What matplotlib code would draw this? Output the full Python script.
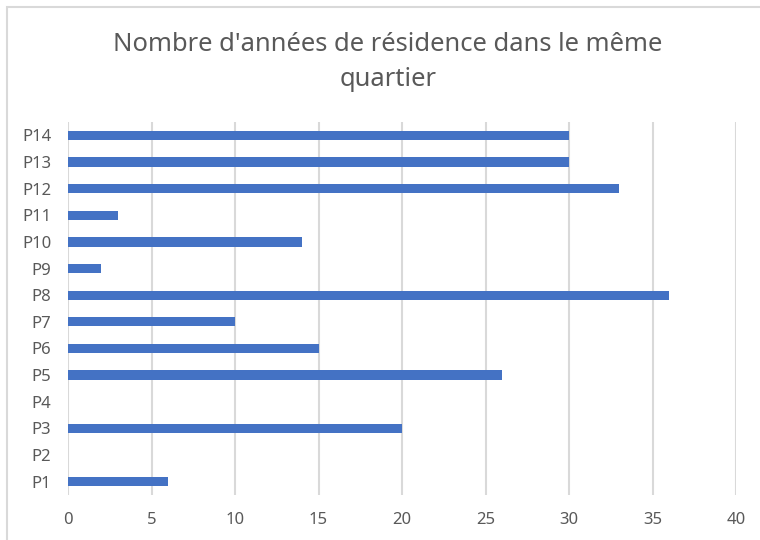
import matplotlib.pyplot as plt
from matplotlib.patches import Rectangle

categories = ["P1", "P2", "P3", "P4", "P5", "P6", "P7", "P8", "P9", "P10", "P11", "P12", "P13", "P14"]
years = [6, 0, 20, 0, 26, 15, 10, 36, 2, 14, 3, 33, 30, 30]
xticks = [0, 5, 10, 15, 20, 25, 30, 35, 40]

plt.rcParams['font.family'] = ['Noto Sans', 'DejaVu Sans']

fig = plt.figure(figsize=(7.6, 5.4), dpi=100)
ax = fig.add_axes([68/760, 45/540, (736-68)/760, (495-122)/540])

ax.barh(range(len(categories)), years, height=0.35, color="#4472C4", zorder=3)
ax.set_yticks(range(len(categories)))
ax.set_yticklabels(categories)
ax.set_ylim(-0.5, len(categories) - 0.5)
ax.set_xlim(0, 40)
ax.set_xticks(xticks)
ax.grid(axis="x", color="#D9D9D9", linewidth=1.5, zorder=0)
for s in ax.spines.values():
    s.set_visible(False)
ax.tick_params(length=0, colors="#595959", labelsize=12)
ax.tick_params(axis="y", pad=12)
ax.tick_params(axis="x", pad=12)

# title
fig.text(388/760, 1 - 62/540, "Nombre d'années de résidence dans le même\nquartier",
         ha="center", va="center", fontsize=18.4, color="#595959", linespacing=1.55)

# chart frame
fig.patches.append(Rectangle((7/760, -0.1), 1.2, 1 - 7/540 + 0.1, transform=fig.transFigure,
                             fill=False, edgecolor="#D9D9D9", linewidth=1.5))

fig.savefig("out.png", dpi=100)
